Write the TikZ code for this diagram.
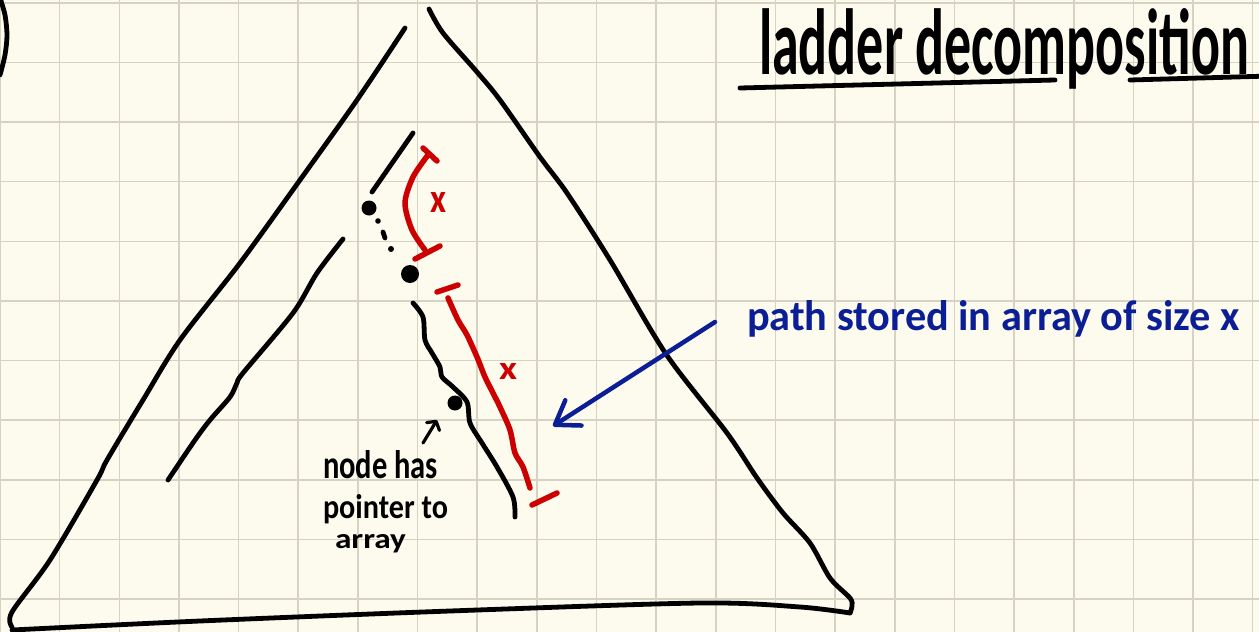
\documentclass[tikz,border=0pt]{standalone}
\usepackage{fontspec}
\setmainfont{Carlito}
\usetikzlibrary{arrows.meta}
\definecolor{paper}{RGB}{253,251,237}
\definecolor{gridc}{RGB}{215,211,196}
\definecolor{inkred}{RGB}{204,0,0}
\definecolor{inkblue}{RGB}{12,30,150}
\tikzset{
  ink/.style={line width=4.8pt, line cap=round, line join=round},
  redink/.style={ink, draw=inkred, line width=5.5pt},
  blueink/.style={ink, draw=inkblue, line width=4.5pt},
  gridline/.style={draw=gridc, line width=1.6pt},
  txt/.style={inner sep=0pt, outer sep=0pt, anchor=base west, font=\bfseries},
  dotb/.style={fill=black},
}
\begin{document}
\begin{tikzpicture}[x=1pt,y=-1pt]
\useasboundingbox (0,0) rectangle (1259,632);
\clip (0,0) rectangle (1259,632);
\fill[paper] (0,0) rectangle (1259,632);
\foreach \i in {0,...,21} \draw[gridline] ({\i*59.65},0) -- ({\i*59.65},632);
\foreach \j in {0,...,10} \draw[gridline] (0,{2.7+\j*59.65}) -- (1259,{2.7+\j*59.65});

% left bracket at edge
\draw[ink] plot[smooth] coordinates {(0,-2) (5,15) (7,35) (5,55) (0,75)};

% triangle
\draw[ink] plot[smooth,tension=0.5] coordinates {(405,28) (357,100) (300,180) (240,263) (180,340) (143,400) (107,460) (97,480) (50,560) (12,612) (12,627)};
\draw[ink] plot[smooth,tension=0.5] coordinates {(12,630) (200,621) (450,611) (700,603) (800,607) (850,613)};
\draw[ink] plot[smooth,tension=0.5] coordinates {(429,9) (443,33) (477,72) (500,100) (540,157) (567,193) (610,260) (666,354) (727,433) (757,478) (783,513) (810,543) (830,578) (850,598) (852,606) (850,613)};

% inner paths
\draw[ink] plot[smooth,tension=0.5] coordinates {(343,239) (317,273) (293,313) (243,373) (237,383) (230,397) (210,420) (195,440) (168,480)};
\draw[ink] (413,133) -- (372,192);
\fill[dotb] (369,208) circle[radius=7.5pt];
\fill[dotb] (378,221) circle[radius=2.8pt];
\draw[ink] (383,232) -- (385,238);
\fill[dotb] (391,249) circle[radius=3pt];
\fill[dotb] (410,274) circle[radius=9pt];
\draw[ink] plot[smooth,tension=0.5] coordinates {(413,303) (423,317) (425,340) (432,353) (440,367) (442,377) (453,387) (467,402) (470,423) (482,443) (497,467) (513,497) (515,517)};
\fill[dotb] (455,403) circle[radius=7.5pt];

% red brackets
\draw[redink] plot[smooth] coordinates {(428,155) (413,177) (405,203) (412,230) (425,250)};
\draw[redink] (423,148) -- (437,161);
\draw[redink] (415,259) -- (440,246);
\node[txt, text=inkred] (xone) at (430,212) {\resizebox{16pt}{20pt}{x}};
\draw[redink] (437,292) -- (458,285);
\draw[redink] plot[smooth,tension=0.5] coordinates {(448,298) (458,320) (467,335) (477,357) (485,377) (493,393) (500,407) (510,430) (515,453) (523,467) (530,488)};
\draw[redink] (532,505) -- (557,493);
\node[txt, text=inkred] (xtwo) at (499,379) {\resizebox{18pt}{16pt}{x}};

% labels
\node[txt] (title) at (759,74) {\resizebox{490pt}{66pt}{ladder decomposition}};
\draw[ink] (740,88) -- (1055,80);
\draw[ink] (1130,80) -- (1270,76);

\node[txt, text=inkblue] (pathlbl) at (747,330) {\resizebox{493pt}{30pt}{path stored in array of size x}};
\coordinate (btail) at (715,322);
\coordinate (btip) at (553,426);
\draw[blueink, -{Straight Barb[length=22pt,width=30pt,round]}] (btail) -- (btip);

\node[txt] (lblone) at (323,478) {\resizebox{115pt}{28pt}{node has}};
\node[txt] (lbltwo) at (323,518) {\resizebox{125pt}{24pt}{pointer to}};
\node[txt] (lblthree) at (335,548) {\resizebox{71pt}{14pt}{array}};
\coordinate (ptail) at (423,443);
\coordinate (ptip) at (437,420);
\draw[ink, line width=3.2pt, -{Straight Barb[length=6pt,width=15pt,round]}] (ptail) -- (ptip);
\end{tikzpicture}
\end{document}
